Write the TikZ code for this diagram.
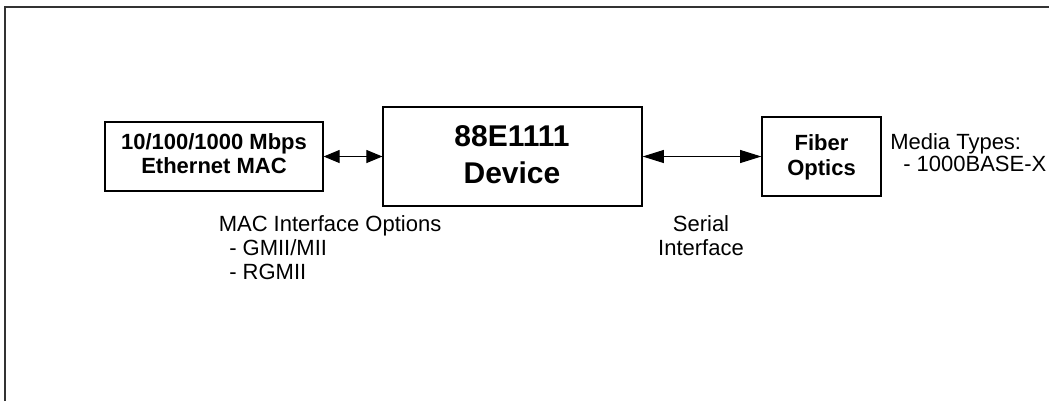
\documentclass[tikz,border=0pt]{standalone}
\usepackage{fontspec}
\setmainfont{Liberation Sans}
\usetikzlibrary{arrows.meta}
\begin{document}
\begin{tikzpicture}[x=0.75pt,y=-0.75pt,
  blk/.style={draw, line width=0.9pt, inner sep=0pt},
  lbl/.style={inner sep=0pt, font=\fontsize{16.5}{18}\selectfont},
  blbl/.style={inner sep=0pt, font=\fontsize{16.5}{18}\selectfont\bfseries},
  big/.style={inner sep=0pt, font=\fontsize{22.5}{27}\selectfont\bfseries},
  linkA/.style={line width=0.8pt, {Triangle[length=12pt,width=9.75pt]}-{Triangle[length=12pt,width=9.75pt]}},
  linkB/.style={line width=0.8pt, {Triangle[length=16pt,width=9.75pt]}-{Triangle[length=16pt,width=9.75pt]}}]
\useasboundingbox (0,0) rectangle (1049,401);
% outer frame
\coordinate (fbl) at (5,401);
\coordinate (ftl) at (5,7);
\coordinate (ftr) at (1049,7);
\draw[line width=1.3pt, black!80] (fbl) -- (ftl) -- (ftr);
% blocks
\node[blk, minimum width=163.5pt, minimum height=51.75pt] (mac) at (214,156.5) {};
\node[blk, minimum width=194.25pt, minimum height=74.25pt] (dev) at (512.5,156.5) {};
\node[blk, minimum width=89.25pt, minimum height=59.25pt] (fib) at (821.5,156.5) {};
% block texts
\node[blbl, anchor=base] (mac1) at (214,149.3) {10/100/1000 Mbps};
\node[blbl, anchor=base] (mac2) at (214,173.3) {Ethernet MAC};
\node[big, anchor=base] (dev1) at (512,146.7) {88E1111};
\node[big, anchor=base] (dev2) at (512,183.3) {Device};
\node[blbl, anchor=base] (fib1) at (821.5,150) {Fiber};
\node[blbl, anchor=base] (fib2) at (821.5,175) {Optics};
% connectors
\draw[linkA] (mac.east) -- (dev.west);
\draw[linkB] (dev.east) -- (fib.west);
% annotations
\node[lbl, anchor=base west] (med1) at (890,149) {Media Types:};
\node[lbl, anchor=base west] (med2) at (903,171.5) {- 1000BASE-X};
\node[lbl, anchor=base west] (opt1) at (218.5,231.7) {MAC Interface Options};
\node[lbl, anchor=base west] (opt2) at (229,255.5) {- GMII/MII};
\node[lbl, anchor=base west] (opt3) at (229,279) {- RGMII};
\node[lbl, anchor=base] (ser1) at (701,231) {Serial};
\node[lbl, anchor=base] (ser2) at (701,255) {Interface};
\end{tikzpicture}
\end{document}
